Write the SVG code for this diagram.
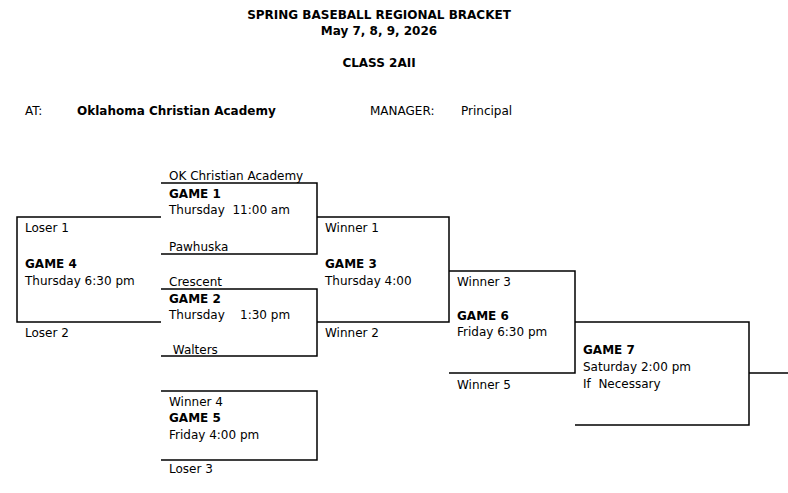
<svg xmlns="http://www.w3.org/2000/svg" width="788" height="493" viewBox="0 0 788 493">
<style>
text{font-family:"DejaVu Sans",Verdana,sans-serif;font-size:12px;fill:#000;white-space:pre}
.b{font-weight:bold}
.c{text-anchor:middle}
path{fill:none;stroke:#000;stroke-width:1.5}
</style>
<rect width="788" height="493" fill="#fff"/>
<text class="b c" x="379" y="19">SPRING BASEBALL REGIONAL BRACKET</text>
<text class="b c" x="379" y="35">May 7, 8, 9, 2026</text>
<text class="b c" x="379" y="67">CLASS 2AII</text>
<text x="25" y="115">AT:</text>
<text class="b" x="77" y="115">Oklahoma Christian Academy</text>
<text x="370" y="115">MANAGER:</text>
<text x="461" y="115">Principal</text>
<g id="connectors">
<path d="M161 183H317V254H161"/>
<path d="M161 217H17V322H161"/>
<path d="M161 289H317V356H161"/>
<path d="M317 217H449V322H317"/>
<path d="M449 271H575V373H449"/>
<path d="M575 322H749V425H575M749 373H788"/>
<path d="M161 391H317V460H161"/>
</g>
<g id="game1"><text x="169" y="180">OK Christian Academy</text><text class="b" x="169" y="198">GAME 1</text><text x="169" y="214">Thursday  11:00 am</text><text x="169" y="251">Pawhuska</text></g>
<g id="game4"><text x="25" y="232">Loser 1</text><text class="b" x="25" y="268">GAME 4</text><text x="25" y="285">Thursday 6:30 pm</text><text x="25" y="337">Loser 2</text></g>
<g id="game2"><text x="169" y="286">Crescent</text><text class="b" x="169" y="303">GAME 2</text><text x="169" y="319">Thursday    1:30 pm</text><text x="169" y="354"> Walters</text></g>
<g id="game3"><text x="325" y="232">Winner 1</text><text class="b" x="325" y="268">GAME 3</text><text x="325" y="285">Thursday 4:00</text><text x="325" y="337">Winner 2</text></g>
<g id="game6"><text x="457" y="286">Winner 3</text><text class="b" x="457" y="320">GAME 6</text><text x="457" y="336">Friday 6:30 pm</text><text x="457" y="389">Winner 5</text></g>
<g id="game7"><text class="b" x="583" y="354">GAME 7</text><text x="583" y="371">Saturday 2:00 pm</text><text x="583" y="388">If  Necessary</text></g>
<g id="game5"><text x="169" y="406">Winner 4</text><text class="b" x="169" y="422">GAME 5</text><text x="169" y="439">Friday 4:00 pm</text><text x="169" y="473">Loser 3</text></g>
</svg>
